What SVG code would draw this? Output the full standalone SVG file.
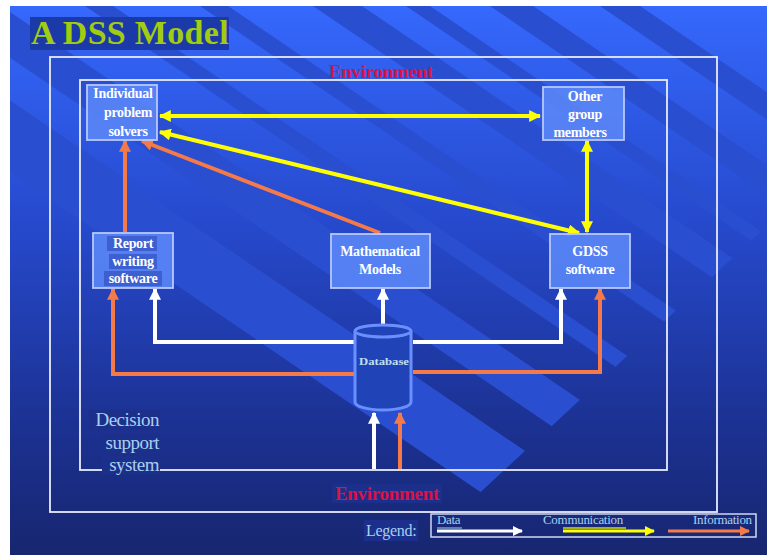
<svg xmlns="http://www.w3.org/2000/svg" width="767" height="555" viewBox="0 0 767 555">
<defs>
<linearGradient id="bg" x1="0" y1="0" x2="0" y2="1">
<stop offset="0" stop-color="#3568fc"/>
<stop offset="0.4" stop-color="#2649cc"/>
<stop offset="0.75" stop-color="#1c3294"/>
<stop offset="1" stop-color="#172670"/>
</linearGradient>
<clipPath id="bandclip"><polygon points="10,6 767,6 767,226 413,555 10,555"/></clipPath>
<marker id="aw" viewBox="0 0 10 10" refX="9" refY="5" markerWidth="12" markerHeight="12" markerUnits="userSpaceOnUse" orient="auto-start-reverse"><path d="M0,0 L10,5 L0,10 Z" fill="#ffffff"/></marker>
<marker id="ay" viewBox="0 0 10 10" refX="9" refY="5" markerWidth="12" markerHeight="12" markerUnits="userSpaceOnUse" orient="auto-start-reverse"><path d="M0,0 L10,5 L0,10 Z" fill="#ffff00"/></marker>
<marker id="ao" viewBox="0 0 10 10" refX="9" refY="5" markerWidth="12" markerHeight="12" markerUnits="userSpaceOnUse" orient="auto-start-reverse"><path d="M0,0 L10,5 L0,10 Z" fill="#f47a4a"/></marker>
<marker id="awS" viewBox="0 0 10 10" refX="9" refY="5" markerWidth="10" markerHeight="10" markerUnits="userSpaceOnUse" orient="auto"><path d="M0,0 L10,5 L0,10 Z" fill="#ffffff"/></marker>
<marker id="ayS" viewBox="0 0 10 10" refX="9" refY="5" markerWidth="10" markerHeight="10" markerUnits="userSpaceOnUse" orient="auto"><path d="M0,0 L10,5 L0,10 Z" fill="#ffff00"/></marker>
<marker id="aoS" viewBox="0 0 10 10" refX="9" refY="5" markerWidth="10" markerHeight="10" markerUnits="userSpaceOnUse" orient="auto"><path d="M0,0 L10,5 L0,10 Z" fill="#f47a4a"/></marker>
</defs>
<style>
.node{fill:#5a86f6;fill-opacity:0.9;stroke:#b8c8ff;stroke-width:1.8}
.nt{font-family:"Liberation Serif",serif;font-weight:bold;font-size:14px;fill:#ffffff;text-anchor:middle;letter-spacing:-0.3px}
.env{font-family:"Liberation Serif",serif;font-weight:bold;font-size:19px;fill:#dd1144;text-anchor:middle;letter-spacing:-0.3px}
.frame{fill:none;stroke:#e8ecff;stroke-width:1.8}
.w{stroke:#ffffff;stroke-width:4;fill:none}
.y{stroke:#ffff00;stroke-width:4;fill:none}
.o{stroke:#f47a4a;stroke-width:4;fill:none}
.lt{font-family:"Liberation Serif",serif;fill:#a8d0f0}
.hl{fill:#1c2f8a}
.band{fill:#2a4ed0}
</style>
<rect x="0" y="0" width="767" height="555" fill="#ffffff"/>
<rect x="10" y="6" width="757" height="549" fill="url(#bg)"/>
<g clip-path="url(#bandclip)">
<polygon class="band" points="-234,6 -129,6 678,555 573,555"/>
<polygon class="band" points="-66,6 1,6 808,555 741,555"/>
<polygon class="band" points="85,6 113,6 920,555 892,555"/>
<polygon class="band" points="200,6 228,6 1035,555 1007,555"/>
<polygon class="band" points="313,6 362,6 1169,555 1120,555"/>
<polygon class="band" points="406,6 430,6 1237,555 1213,555"/>
<polygon class="band" points="490,6 533,6 1340,555 1297,555"/>
<polygon class="band" points="600,6 640,6 1447,555 1407,555"/>
</g>
<g id="title">
<rect x="30" y="17" width="199" height="33" fill="#1b3aa8"/>
<text x="31" y="44" font-family="Liberation Serif,serif" font-weight="bold" font-size="34" fill="#a2cc10" letter-spacing="0.3">A DSS Model</text>
</g>
<g id="environment">
<rect class="frame" x="50" y="57" width="667" height="455"/>
<text class="env" x="381" y="78">Environment</text>
<rect x="332" y="484" width="110" height="19" class="hl"/>
<text class="env" x="387" y="500" fill="#b01030">Environment</text>
</g>
<g id="dss">
<rect class="frame" x="80" y="80" width="587" height="390"/>
<rect x="89" y="410" width="71" height="20" class="hl"/>
<rect x="101" y="434" width="59" height="20" class="hl"/>
<rect x="102" y="456" width="58" height="18" class="hl"/>
<text class="lt" x="159" y="426" font-size="19" text-anchor="end" letter-spacing="-0.5">Decision</text>
<text class="lt" x="159" y="449" font-size="19" text-anchor="end" letter-spacing="-0.5">support</text>
<text class="lt" x="159" y="471" font-size="19" text-anchor="end" letter-spacing="-0.5">system</text>
</g>
<g id="connectors">
<line class="y" x1="160" y1="116" x2="540" y2="116" marker-start="url(#ay)" marker-end="url(#ay)"/>
<line class="y" x1="160" y1="132" x2="579" y2="233" marker-start="url(#ay)" marker-end="url(#ay)"/>
<line class="y" x1="587" y1="141" x2="587" y2="232" marker-start="url(#ay)" marker-end="url(#ay)"/>
<line class="o" x1="125" y1="232" x2="125" y2="141" marker-end="url(#ao)"/>
<line class="o" x1="380" y1="233" x2="142" y2="141" marker-end="url(#ao)"/>
<line class="w" x1="383" y1="325" x2="383" y2="289" marker-end="url(#aw)"/>
<polyline class="w" points="354,342 155,342 155,289" marker-end="url(#aw)"/>
<polyline class="w" points="413,342 561,342 561,289" marker-end="url(#aw)"/>
<polyline class="o" points="354,374 113,374 113,289" marker-end="url(#ao)"/>
<polyline class="o" points="413,372 600,372 600,289" marker-end="url(#ao)"/>
<line class="w" x1="374" y1="469" x2="374" y2="413" marker-end="url(#aw)"/>
<line class="o" x1="400" y1="469" x2="400" y2="413" marker-end="url(#ao)"/>
</g>
<g id="individual">
<rect class="node" x="87" y="85" width="70" height="55"/>
<text class="nt" x="123" y="98">Individual</text>
<text class="nt" x="128" y="117">problem</text>
<text class="nt" x="128" y="136">solvers</text>
</g>
<g id="other">
<rect class="node" x="543" y="87" width="81" height="53"/>
<text class="nt" x="585" y="101">Other</text>
<text class="nt" x="585" y="119">group</text>
<text class="nt" x="580" y="137">members</text>
</g>
<g id="report">
<rect class="node" x="93" y="233" width="80" height="55"/>
<rect x="107" y="236" width="50" height="15" fill="#3d5fd0"/>
<rect x="109" y="254" width="48" height="15" fill="#3d5fd0"/>
<rect x="104" y="271" width="58" height="15" fill="#3d5fd0"/>
<text class="nt" x="133" y="248" fill="#a8d8e8">Report</text>
<text class="nt" x="133" y="266" fill="#a8d8e8">writing</text>
<text class="nt" x="133" y="283" fill="#a8d8e8">software</text>
</g>
<g id="math">
<rect class="node" x="331" y="234" width="99" height="54"/>
<text class="nt" x="380" y="256">Mathematical</text>
<text class="nt" x="380" y="274">Models</text>
</g>
<g id="gdss">
<rect class="node" x="550" y="234" width="80" height="54"/>
<text class="nt" x="590" y="256">GDSS</text>
<text class="nt" x="590" y="274">software</text>
</g>
<g id="database">
<path d="M355,331 L355,402 A28,8 0 0 0 411,402 L411,331" fill="#2143b8" stroke="#6a90ff" stroke-width="3"/>
<ellipse cx="383" cy="331" rx="28" ry="6" fill="#2143b8" stroke="#6a90ff" stroke-width="3"/>
<text x="384" y="365" font-family="Liberation Serif,serif" font-weight="bold" font-size="11" fill="#bfe0f0" text-anchor="middle" textLength="50" lengthAdjust="spacingAndGlyphs">Database</text>
</g>
<g id="legend">
<rect x="364" y="520" width="54" height="21" class="hl"/>
<text class="lt" x="366" y="536" font-size="16" letter-spacing="-0.3">Legend:</text>
<rect x="431" y="514" width="325" height="23" fill="none" stroke="#d0d8f0" stroke-width="1.5"/>
<text class="lt" x="437" y="524" font-size="13" letter-spacing="-0.3">Data</text>
<line x1="437" y1="528" x2="462" y2="528" stroke="#a8d0f0" stroke-width="1"/>
<line x1="437" y1="531" x2="522" y2="531" stroke="#ffffff" stroke-width="3" marker-end="url(#awS)"/>
<text class="lt" x="543" y="524" font-size="13" letter-spacing="-0.3">Communication</text>
<line x1="563" y1="528" x2="626" y2="528" stroke="#a0b020" stroke-width="2"/>
<line x1="563" y1="531" x2="654" y2="531" stroke="#ffff00" stroke-width="3" marker-end="url(#ayS)"/>
<text class="lt" x="693" y="524" font-size="13" letter-spacing="-0.3">Information</text>
<line x1="668" y1="531" x2="749" y2="531" stroke="#f47a4a" stroke-width="3" marker-end="url(#aoS)"/>
</g>
</svg>
